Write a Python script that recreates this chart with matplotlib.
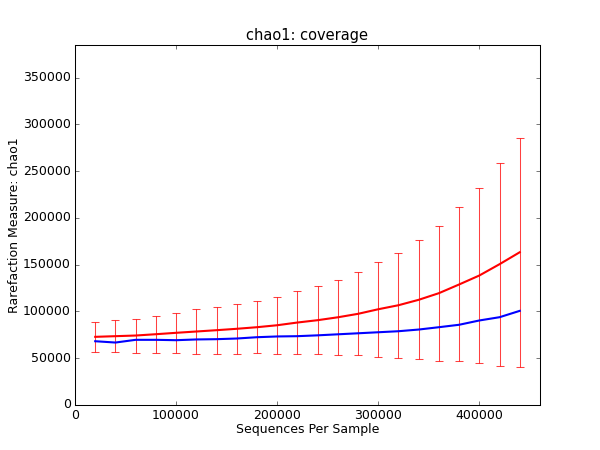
import matplotlib
matplotlib.use("Agg")
import matplotlib.pyplot as plt
import numpy as np

plt.style.use("classic")

seqs = [20000, 40000, 60000, 80000, 100000, 120000, 140000, 160000, 180000, 200000, 220000,
        240000, 260000, 280000, 300000, 320000, 340000, 360000, 380000, 400000, 420000, 440000]
red_mean = [72900, 73600, 74300, 75700, 77200, 78600, 80000, 81500, 83200, 85300, 88200,
            90700, 93800, 97500, 102400, 106700, 112500, 119600, 128900, 138500, 150600, 163400]
red_std = [16050, 17300, 18200, 19800, 21600, 23650, 25250, 26500, 27800, 30500, 33550,
           36350, 40100, 44500, 50800, 56150, 63650, 72200, 82350, 93550, 108550, 122600]
blue_mean = [68200, 66800, 69700, 69700, 69300, 70100, 70400, 71100, 72500, 73300, 73600,
             74500, 75600, 76700, 77800, 78900, 80700, 83200, 85800, 90400, 93900, 100700]

title = "chao1: coverage"
xlabel = "Sequences Per Sample"
ylabel = "Rarefaction Measure: chao1"

fig = plt.figure(figsize=(8, 6), dpi=75, facecolor="white")
ax = fig.add_axes([0.125, 0.1, 0.775, 0.8])

ax.errorbar(seqs, red_mean, yerr=red_std, fmt="none", ecolor="red", elinewidth=1,
            capsize=4, capthick=1, alpha=0.75, zorder=1)
ax.plot(seqs, blue_mean, color="blue", lw=2, zorder=2)
ax.plot(seqs, red_mean, color="red", lw=2, zorder=3)

ax.set_xlim(0, 460000)
ax.set_ylim(0, 385000)
ax.set_xticks([0, 100000, 200000, 300000, 400000])
ax.set_yticks([0, 50000, 100000, 150000, 200000, 250000, 300000, 350000])
ax.ticklabel_format(style="plain", useOffset=False)
ax.tick_params(direction="in", top=True, right=True, labelsize=12)

ax.set_title(title, fontsize=14)
ax.set_xlabel(xlabel, fontsize=12, labelpad=1)
ax.set_ylabel(ylabel, fontsize=12, labelpad=2)

fig.savefig("out.png", dpi=75, facecolor="white")
